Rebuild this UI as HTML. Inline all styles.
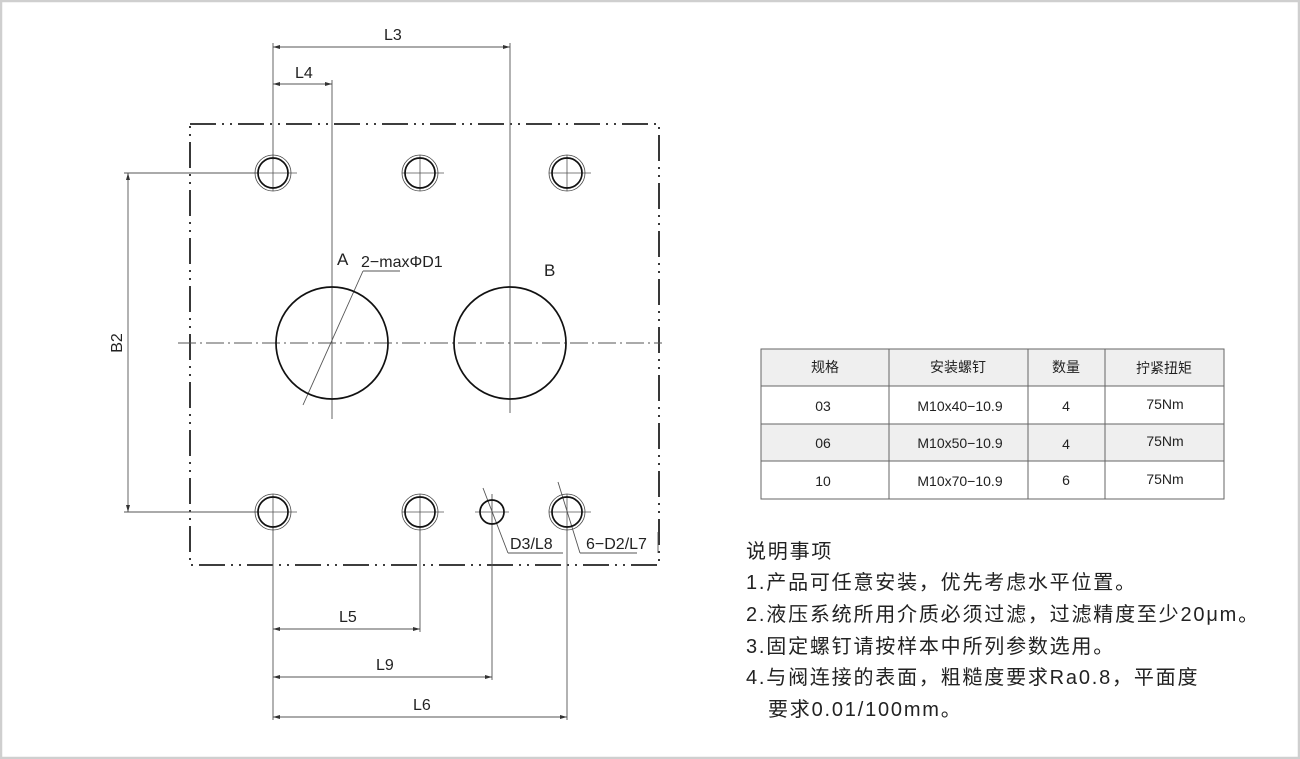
<!DOCTYPE html>
<html><head><meta charset="utf-8"><style>
html,body{margin:0;padding:0;background:#fff}
.wrap{position:relative;width:1300px;height:759px;overflow:hidden}
svg text{font-family:"Liberation Sans","Noto Sans CJK SC",sans-serif;fill:#222}
</style></head><body><div class="wrap">
<svg width="1300" height="759" viewBox="0 0 1300 759" xmlns="http://www.w3.org/2000/svg">
<rect x="1" y="1" width="1298" height="757" fill="#fff" stroke="#cfcfcf" stroke-width="2.5"/>
<rect x="190" y="124" width="469" height="441" fill="none" stroke="#222" stroke-width="1.8" stroke-dasharray="26 6 2 6 2 6"/>
<line x1="178" y1="343" x2="662" y2="343" stroke="#555" stroke-width="1" stroke-dasharray="18 4 2 4"/>
<g stroke="#555" stroke-width="0.9" fill="none">
<line x1="273" y1="43" x2="273" y2="160"/>
<line x1="510" y1="43" x2="510" y2="413"/>
<line x1="332" y1="80" x2="332" y2="419"/>
<line x1="273" y1="47" x2="510" y2="47"/>
<line x1="273" y1="84" x2="332" y2="84"/>
<line x1="124" y1="173" x2="258" y2="173"/>
<line x1="124" y1="512" x2="258" y2="512"/>
<line x1="128" y1="173" x2="128" y2="512"/>
<line x1="273" y1="527" x2="273" y2="720"/>
<line x1="420" y1="527" x2="420" y2="632"/>
<line x1="492" y1="494" x2="492" y2="680"/>
<line x1="567" y1="527" x2="567" y2="720"/>
<line x1="273" y1="629" x2="420" y2="629"/>
<line x1="273" y1="677" x2="492" y2="677"/>
<line x1="273" y1="717" x2="567" y2="717"/>
<line x1="303" y1="405" x2="363" y2="271"/>
<line x1="363" y1="271" x2="400" y2="271"/>
<line x1="483" y1="488" x2="508" y2="553"/>
<line x1="508" y1="553" x2="563" y2="553"/>
<line x1="558" y1="482" x2="580" y2="553"/>
<line x1="580" y1="553" x2="637" y2="553"/>
<line x1="658" y1="532" x2="658" y2="553"/>
<g stroke-width="0.8">
<path d="M255 173H297M273 155V191M402 173H444M420 155V191M549 173H591M567 155V191"/>
<path d="M255 512H297M273 494V530M402 512H444M420 494V530M475 512H509M549 512H591M567 494V530"/>
</g>
</g>
<g fill="#333">
<path d="M273 47l7-2v4z M510 47l-7-2v4z M273 84l7-2v4z M332 84l-7-2v4z"/>
<path d="M128 173l-2 7h4z M128 512l-2-7h4z"/>
<path d="M273 629l7-2v4z M420 629l-7-2v4z M273 677l7-2v4z M492 677l-7-2v4z M273 717l7-2v4z M567 717l-7-2v4z"/>
</g>
<g fill="none" stroke="#111">
<g stroke-width="1.7">
<circle cx="273" cy="173" r="15"/><circle cx="420" cy="173" r="15"/><circle cx="567" cy="173" r="15"/>
<circle cx="273" cy="512" r="15"/><circle cx="420" cy="512" r="15"/><circle cx="567" cy="512" r="15"/>
<circle cx="492" cy="512" r="12"/>
<circle cx="332" cy="343" r="56"/><circle cx="510" cy="343" r="56"/>
</g>
<g stroke-width="0.8" stroke="#444">
<circle cx="273" cy="173" r="18"/><circle cx="420" cy="173" r="18"/><circle cx="567" cy="173" r="18"/>
<circle cx="273" cy="512" r="18"/><circle cx="420" cy="512" r="18"/><circle cx="567" cy="512" r="18"/>
</g>
</g>
<g font-size="16">
<text x="384" y="40">L3</text>
<text x="295" y="78">L4</text>
<text x="337" y="265" font-size="17">A</text>
<text x="361" y="267">2−maxΦD1</text>
<text x="544" y="276" font-size="17">B</text>
<text transform="translate(122,343) rotate(-90)" text-anchor="middle">B2</text>
<text x="510" y="549">D3/L8</text>
<text x="586" y="549">6−D2/L7</text>
<text x="339" y="622">L5</text>
<text x="376" y="670">L9</text>
<text x="413" y="710">L6</text>
</g>
<rect x="761" y="349" width="463" height="37" fill="#efefef"/>
<rect x="761" y="424" width="463" height="37" fill="#efefef"/>
<g stroke="#666" stroke-width="1" fill="none">
<rect x="761" y="349" width="463" height="150"/>
<path d="M761 386H1224M761 424H1224M761 461H1224M889 349V499M1028 349V499M1105 349V499"/>
</g>
<g font-size="14" text-anchor="middle">
<text x="825" y="372">规格</text><text x="958" y="372">安装螺钉</text><text x="1066" y="372">数量</text><text x="1164" y="373">拧紧扭矩</text>
<text x="823" y="411">03</text><text x="960" y="411">M10x40−10.9</text><text x="1066" y="411">4</text><text x="1165" y="409">75Nm</text>
<text x="823" y="448">06</text><text x="960" y="448">M10x50−10.9</text><text x="1066" y="449">4</text><text x="1165" y="446">75Nm</text>
<text x="823" y="486">10</text><text x="960" y="486">M10x70−10.9</text><text x="1066" y="485">6</text><text x="1165" y="484">75Nm</text>
</g>
<g font-size="20" letter-spacing="1.8">
<text x="746" y="558">说明事项</text>
<text x="746" y="589">1.产品可任意安装，优先考虑水平位置。</text>
<text x="746" y="621">2.液压系统所用介质必须过滤，过滤精度至少20μm。</text>
<text x="746" y="653">3.固定螺钉请按样本中所列参数选用。</text>
<text x="746" y="684">4.与阀连接的表面，粗糙度要求Ra0.8，平面度</text>
<text x="768" y="716">要求0.01/100mm。</text>
</g>
</svg>
</div></body></html>
